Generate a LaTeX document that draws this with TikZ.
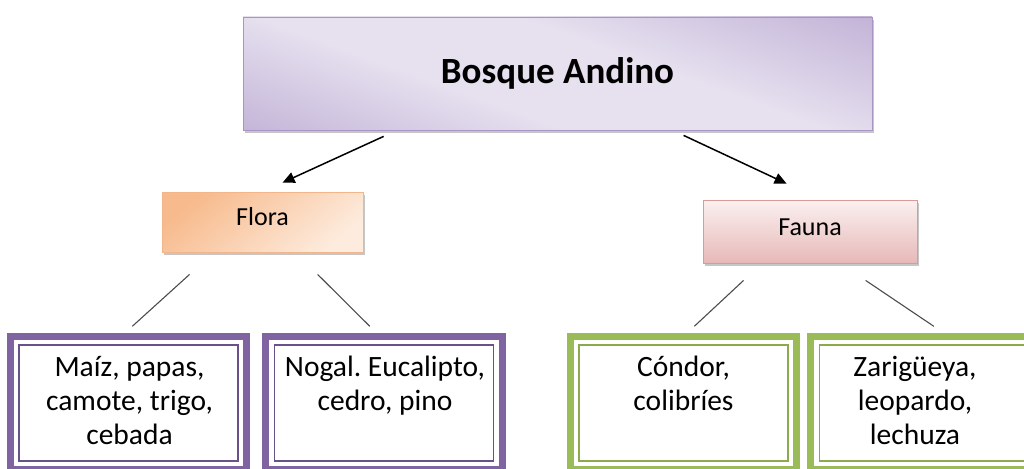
\documentclass[tikz,border=0pt]{standalone}
\usepackage{fontspec}
\setmainfont{Carlito}
\usetikzlibrary{arrows.meta,calc,shadows}
\definecolor{lavlt}{HTML}{E6E0EF}
\definecolor{lavdk}{HTML}{A993C6}
\definecolor{lavbd}{HTML}{A995C4}
\definecolor{orlt}{HTML}{FDEBDD}
\definecolor{ordk}{HTML}{F7BA8C}
\definecolor{orbd}{HTML}{F3B58A}
\definecolor{pklt}{HTML}{FBF0F0}
\definecolor{pkdk}{HTML}{E6B9B8}
\definecolor{pkbd}{HTML}{D99B9A}
\definecolor{purp}{HTML}{8064A2}
\definecolor{purpdk}{HTML}{6A5289}
\definecolor{grn}{HTML}{9BBB59}
\definecolor{grndk}{HTML}{8BAA4C}
\pgfdeclarehorizontalshading{bosq}{100bp}{color(0bp)=(lavdk); color(40bp)=(lavlt); color(58bp)=(lavlt); color(100bp)=(lavdk)}
\frenchspacing
\tikzset{
  topbox/.style={draw=lavbd, line width=0.8pt, shading=bosq, shading angle=70,
    minimum width=629pt, minimum height=113pt, inner sep=0pt,
    font=\fontsize{37}{42}\selectfont\bfseries,
    drop shadow={shadow xshift=2pt, shadow yshift=-3pt, opacity=0.45}},
  florabox/.style={draw=orbd, line width=0.8pt, top color=ordk, bottom color=orlt,
    shading angle=40, minimum width=201pt, minimum height=60pt, inner sep=0pt,
    font=\fontsize{26}{30}\selectfont,
    drop shadow={shadow xshift=2pt, shadow yshift=-2.5pt, opacity=0.45}},
  faunabox/.style={draw=pkbd, line width=0.8pt, top color=pklt, bottom color=pkdk,
    minimum width=214pt, minimum height=63pt, inner sep=0pt,
    font=\fontsize{26}{30}\selectfont,
    drop shadow={shadow xshift=2pt, shadow yshift=-2.5pt, opacity=0.45}},
  innerbox/.style={draw=#1, line width=1.4pt, fill=white, inner sep=0pt,
    minimum width=219pt, minimum height=116pt},
  outerframe/.style={draw=#1, line width=7pt},
  btext/.style={font=\fontsize{29.5}{34}\selectfont, align=center, anchor=north, inner sep=0pt},
  arr/.style={line width=1.5pt, -{Triangle[length=12pt,width=11pt]}},
  conn/.style={line width=1.1pt, draw=black!70},
}
\begin{document}
\begin{tikzpicture}[x=1pt,y=-1pt]
\useasboundingbox (0,0) rectangle (1024,468);
\clip (0,0) rectangle (1024,468);
% top node
\node[topbox] (top) at (557.5,73.5) {Bosque Andino};
\node[florabox] (flora) at (262.5,222) {\raisebox{-3.5pt}[0pt][0pt]{Flora}};
\node[faunabox] (fauna) at (810,231.5) {\raisebox{-3.5pt}[0pt][0pt]{Fauna}};
% bottom boxes (inner line nodes)
\node[innerbox=purpdk] (b1) at (128.5,403) {};
\node[innerbox=purpdk] (b2) at (384,403) {};
\node[innerbox=grndk, minimum width=209pt] (b3) at (683.5,403) {};
\node[innerbox=grndk] (b4) at (929,403) {};
\draw[outerframe=purp] ([shift={(-8pt,8pt)}]b1.north west) rectangle ([shift={(8pt,-8pt)}]b1.south east);
\draw[outerframe=purp] ([shift={(-8pt,8pt)}]b2.north west) rectangle ([shift={(8pt,-8pt)}]b2.south east);
\draw[outerframe=grn] ([shift={(-8pt,8pt)}]b3.north west) rectangle ([shift={(8pt,-8pt)}]b3.south east);
\draw[outerframe=grn] ([shift={(-8pt,8pt)}]b4.north west) rectangle ([shift={(8pt,-8pt)}]b4.south east);
% texts
\node[btext] (t1) at ($(b1.north)+(1,12)$) {Maíz, papas,\\camote, trigo,\\cebada};
\node[btext] (t2) at ($(b2.north)+(1,12)$) {Nogal. Eucalipto,\\cedro, pino};
\node[btext] (t3) at ($(b3.north)+(0,12)$) {Cóndor,\\colibríes};
\node[btext] (t4) at ($(b4.north)+(-14,12)$) {Zarigüeya,\\leopardo,\\lechuza};
% arrows
\draw[arr] ($(top.south west)+(141,6)$) -- ($(flora.north west)+(121,-9)$);
\draw[arr] ($(top.south west)+(441,5)$) -- ($(fauna.north west)+(84,-16)$);
% connectors
\draw[conn] ($(flora.south west)+(28,22)$) -- ($(b1.north west)+(114,-18)$);
\draw[conn] ($(flora.south west)+(156,22)$) -- ($(b2.north west)+(96,-18)$);
\draw[conn] ($(fauna.south west)+(41,17)$) -- ($(b3.north west)+(116,-18)$);
\draw[conn] ($(fauna.south west)+(163,17)$) -- ($(b4.north west)+(115,-18)$);
\end{tikzpicture}
\end{document}
